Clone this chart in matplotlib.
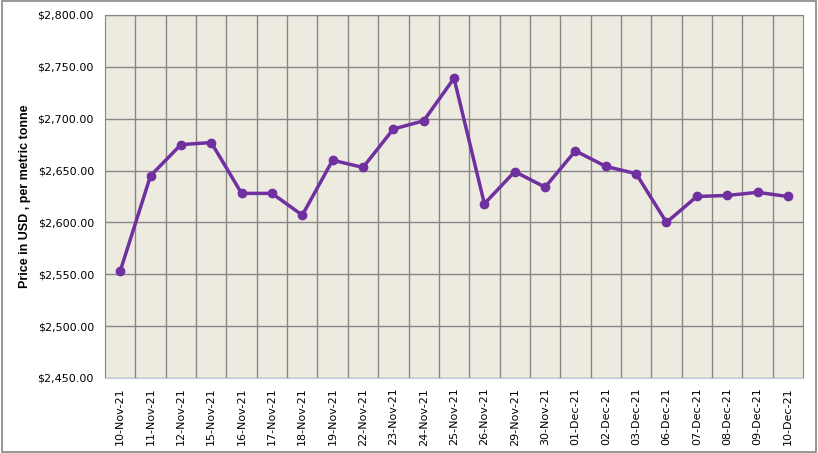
import matplotlib.pyplot as plt
from matplotlib.patches import Rectangle

dates = ['10-Nov-21', '11-Nov-21', '12-Nov-21', '15-Nov-21', '16-Nov-21', '17-Nov-21',
         '18-Nov-21', '19-Nov-21', '22-Nov-21', '23-Nov-21', '24-Nov-21', '25-Nov-21',
         '26-Nov-21', '29-Nov-21', '30-Nov-21', '01-Dec-21', '02-Dec-21', '03-Dec-21',
         '06-Dec-21', '07-Dec-21', '08-Dec-21', '09-Dec-21', '10-Dec-21']
prices = [2553, 2645, 2675, 2677, 2628, 2628, 2607, 2660, 2653, 2690, 2698, 2739,
          2618, 2649, 2634, 2669, 2654, 2647, 2600, 2625, 2626, 2629, 2625]
yticks = [2450, 2500, 2550, 2600, 2650, 2700, 2750, 2800]

fig = plt.figure(figsize=(8.18, 4.53), dpi=100)
ax = fig.add_axes([0.1284, 0.1656, 0.8533, 0.8013])
ax.set_facecolor('#EDEAE0')

x = range(len(dates))
ax.plot(x, prices, color='#7030A0', linewidth=2.5, marker='o', markersize=6, zorder=3)

ax.set_xlim(-0.5, len(dates) - 0.5)
ax.set_ylim(2450, 2800)
ax.set_yticks(yticks)
ax.set_yticklabels(['${:,.2f}'.format(v) for v in yticks], fontsize=8)
ax.set_xticks(list(x))
ax.set_xticklabels(dates, rotation=90, fontsize=8)
ax.set_xticks([i + 0.5 for i in range(len(dates) - 1)], minor=True)
ax.tick_params(which='both', length=0)
ax.tick_params(axis='x', pad=7)
ax.tick_params(axis='y', pad=8)

ax.grid(True, axis='y', which='major', color='#868686', linewidth=1)
ax.grid(True, axis='x', which='minor', color='#868686', linewidth=1)
ax.set_axisbelow(True)

for s in ['top', 'right', 'left']:
    ax.spines[s].set_color('#868686')
ax.spines['bottom'].set_color('#B9CDE5')

ax.set_ylabel('Price in USD , per metric tonne', fontsize=9, fontweight='bold',
              family='Liberation Sans', labelpad=5)

fig.patches.append(Rectangle((0.002, 0.003), 0.996, 0.994, transform=fig.transFigure,
                             fill=False, edgecolor='#868686', linewidth=1.2))

fig.savefig('out.png', dpi=100)
